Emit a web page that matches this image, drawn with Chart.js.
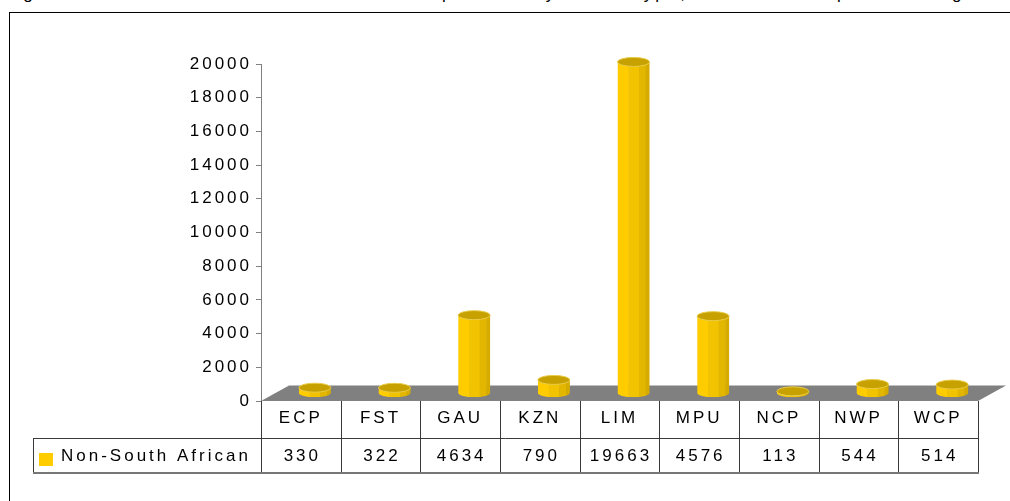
<!DOCTYPE html>
<html>
<head>
<meta charset="utf-8">
<script src="https://cdn.jsdelivr.net/npm/chart.js@4/dist/chart.umd.min.js"></script>
<style>
  body { margin: 0; overflow: hidden; background: #fff; font-family: "Liberation Sans", Arial, sans-serif; }
  #frame { position: absolute; left: 9px; top: 12px; width: 1200px; height: 700px; border: 1px solid #000; }
  .ttl { position: absolute; top: -16px; font-size: 17px; line-height: 20px; letter-spacing: 3px; color: #000; white-space: nowrap; }
  #barChart { position: absolute; left: 0; top: 0; }
</style>
</head>
<body>
<span class="ttl" style="left:3px">Figure</span>
<span class="ttl" style="left:442px">patients by</span>
<span class="ttl" style="left:636px">type,</span>
<span class="ttl" style="left:837px">per</span>
<span class="ttl" style="left:931px">region</span>
<div id="frame"></div>
<canvas id="barChart" width="1010" height="501"></canvas>
<script>
const categories = ['ECP', 'FST', 'GAU', 'KZN', 'LIM', 'MPU', 'NCP', 'NWP', 'WCP']
const nonSouthAfrican = [330, 322, 4634, 790, 19663, 4576, 113, 544, 514]
const yTicks = [0, 2000, 4000, 6000, 8000, 10000, 12000, 14000, 16000, 18000, 20000]
const seriesName = 'Non-South African'

const FONT = { family: '"Liberation Sans", Arial, sans-serif', size: 17 }
const depthX = 28
const depthY = 15.5

// bars are drawn as cylinders on top of the library's bar elements
const cylinderPlugin = {
    id: 'cylinders',
    beforeDraw(chart) {
        chart.ctx.letterSpacing = '3px'
    },
    beforeDatasetsDraw(chart) {
        const ctx = chart.ctx
        const area = chart.chartArea
        const y0 = chart.scales.y.getPixelForValue(0)
        ctx.save()
        ctx.fillStyle = '#808080'
        ctx.beginPath()
        ctx.moveTo(area.left, y0)
        ctx.lineTo(area.right, y0)
        ctx.lineTo(area.right + depthX, y0 - depthY)
        ctx.lineTo(area.left + depthX, y0 - depthY)
        ctx.closePath()
        ctx.fill()
        ctx.restore()
    },
    afterDatasetsDraw(chart) {
        const ctx = chart.ctx
        const meta = chart.getDatasetMeta(0)
        const strips = [[0, 0.34, '#FFCC00'], [0.34, 0.67, '#F2C300'], [0.67, 0.88, '#E3B600'], [0.88, 1, '#D6AB00']]
        meta.data.forEach(function (bar) {
            const w = bar.width
            const cx = bar.x + depthX / 2
            const top = bar.y - depthY / 2
            const base = bar.base - depthY / 2
            const left = cx - w / 2
            const ry = 4.5
            ctx.save()
            ctx.beginPath()
            ctx.rect(left, top, w, base - top)
            ctx.ellipse(cx, base, w / 2, ry, 0, 0, Math.PI * 2)
            ctx.clip()
            for (let s of strips) {
                ctx.fillStyle = s[2]
                ctx.fillRect(left + s[0] * w, top - ry, (s[1] - s[0]) * w + 0.5, base - top + 2 * ry)
            }
            ctx.restore()
            ctx.save()
            ctx.beginPath()
            ctx.ellipse(cx, top, w / 2, ry, 0, 0, Math.PI * 2)
            ctx.fillStyle = '#C6A100'
            ctx.fill()
            ctx.strokeStyle = '#E9CC4A'
            ctx.lineWidth = 1
            ctx.stroke()
            ctx.restore()
        })
    },
    afterDraw(chart) {
        const ctx = chart.ctx
        const area = chart.chartArea
        const x = chart.scales.x
        const y0 = chart.scales.y.getPixelForValue(0)
        const colW = (area.right - area.left) / categories.length
        const rowMid = 438
        const rowBot = 473
        const legLeft = 33
        ctx.save()
        ctx.strokeStyle = '#3a3a3a'
        ctx.lineWidth = 1
        ctx.beginPath()
        for (let i = 0; i <= categories.length; i++) {
            const px = Math.round(area.left + i * colW) + 0.5
            ctx.moveTo(px, y0)
            ctx.lineTo(px, rowBot)
        }
        ctx.moveTo(legLeft + 0.5, rowMid)
        ctx.lineTo(legLeft + 0.5, rowBot)
        ctx.moveTo(legLeft, rowMid + 0.5)
        ctx.lineTo(area.right, rowMid + 0.5)
        ctx.stroke()
        ctx.strokeStyle = '#777'
        ctx.lineWidth = 2
        ctx.beginPath()
        ctx.moveTo(legLeft, rowBot)
        ctx.lineTo(area.right + 1, rowBot)
        ctx.stroke()

        ctx.fillStyle = '#000'
        ctx.font = FONT.size + 'px ' + FONT.family
        ctx.textBaseline = 'middle'
        ctx.textAlign = 'center'
        nonSouthAfrican.forEach(function (v, i) {
            ctx.fillText(String(v), x.getPixelForValue(i) + 1.5, 456.5)
        })
        ctx.fillStyle = '#FFCC00'
        ctx.fillRect(39, 453, 14, 13)
        ctx.fillStyle = '#000'
        ctx.textAlign = 'left'
        ctx.fillText(chart.data.datasets[0].label, 61, 456.5)
        ctx.restore()
    }
}

const data = {
    labels: categories,
    datasets: [{
        label: seriesName,
        data: nonSouthAfrican,
        backgroundColor: 'rgba(0,0,0,0)',
        borderWidth: 0,
        barThickness: 32
    }]
}

const config = {
    type: 'bar',
    data: data,
    plugins: [cylinderPlugin],
    options: {
        responsive: false,
        animation: false,
        layout: { padding: { left: 0, right: 32, top: 64, bottom: 0 } },
        plugins: {
            legend: { display: false },
            tooltip: { enabled: false },
            title: { display: false }
        },
        scales: {
            x: {
                grid: { display: false, drawTicks: false },
                border: { display: false },
                ticks: { color: '#000', font: FONT, padding: 7, maxRotation: 0 },
                afterFit(scale) { scale.height = 100 }
            },
            y: {
                min: 0,
                max: 20000,
                grid: { display: true, drawOnChartArea: false, drawTicks: true, tickLength: 5, color: '#808080' },
                border: { display: true, color: '#808080' },
                ticks: {
                    color: '#000',
                    font: FONT,
                    padding: 4,
                    callback: function (v) { return String(v) }
                },
                afterBuildTicks(scale) { scale.ticks = yTicks.map(v => ({ value: v })) },
                afterFit(scale) { scale.width = 261 }
            }
        }
    }
}

new Chart(document.getElementById('barChart'), config)
</script>
</body>
</html>
